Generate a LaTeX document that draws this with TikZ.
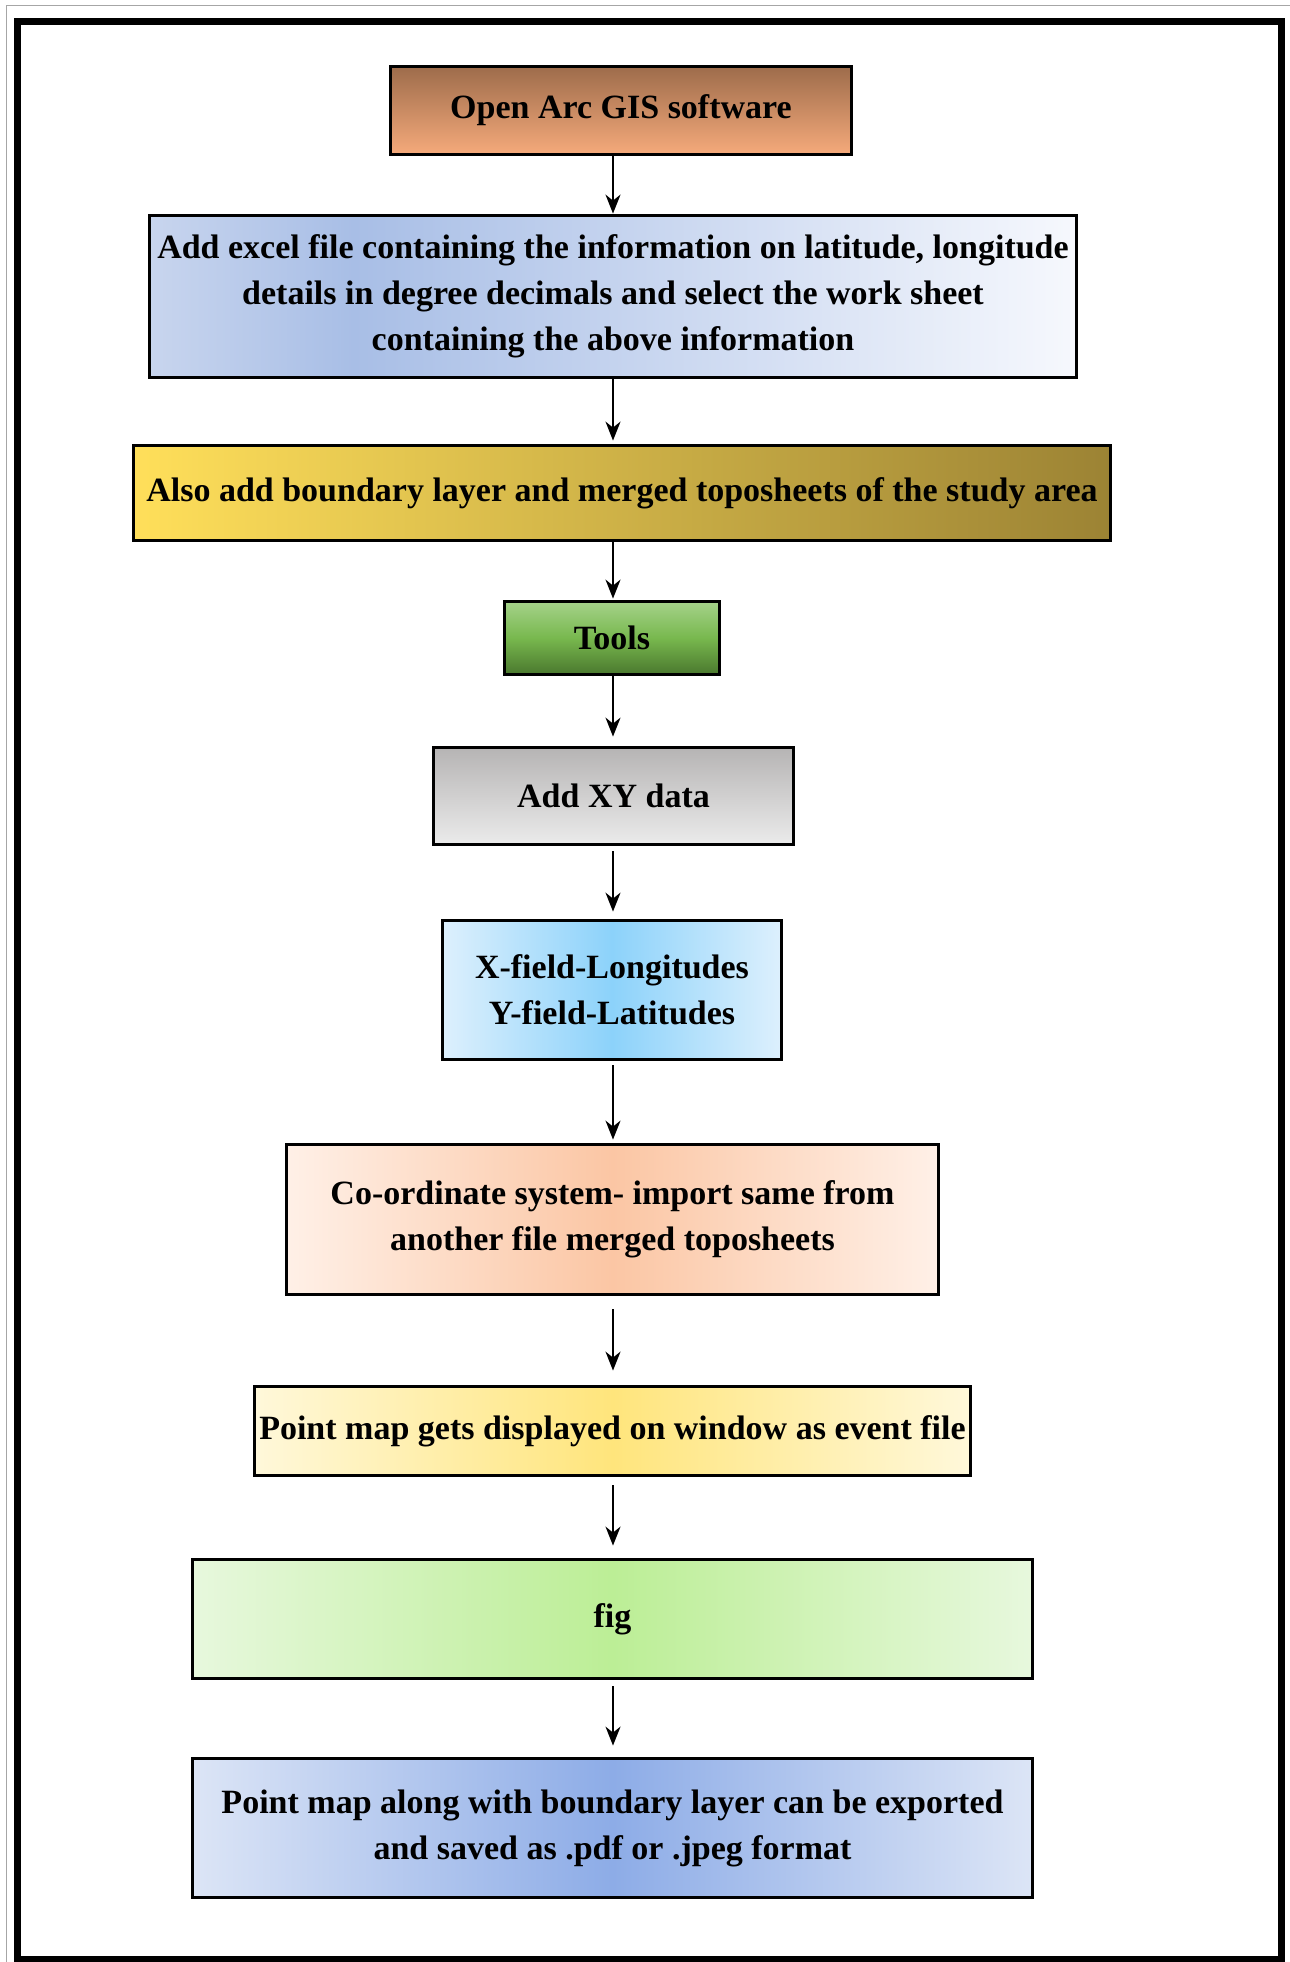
\documentclass[tikz,border=0pt]{standalone}
\usepackage{fontspec}
\setmainfont{Liberation Serif}
\usetikzlibrary{arrows.meta}
\definecolor{cAtop}{HTML}{9E6C4B}
\definecolor{cAbot}{HTML}{F5AA7B}
\definecolor{cBa}{HTML}{C8D5EE}
\definecolor{cBb}{HTML}{A8BEE6}
\definecolor{cBc}{HTML}{F6F8FD}
\definecolor{cCa}{HTML}{FFDF5A}
\definecolor{cCb}{HTML}{9C8334}
\definecolor{cDtop}{HTML}{A5D28A}
\definecolor{cDmid}{HTML}{78B84E}
\definecolor{cDbot}{HTML}{4A782E}
\definecolor{cEtop}{HTML}{B6B4B4}
\definecolor{cEbot}{HTML}{EBEBEB}
\definecolor{cFedge}{HTML}{DDF0FD}
\definecolor{cFmid}{HTML}{8CD2FA}
\definecolor{cGedge}{HTML}{FFF0E7}
\definecolor{cGmid}{HTML}{FBC6A4}
\definecolor{cHedge}{HTML}{FFF8DA}
\definecolor{cHmid}{HTML}{FFE57C}
\definecolor{cIedge}{HTML}{E7F8DD}
\definecolor{cImid}{HTML}{BCEE96}
\definecolor{cJedge}{HTML}{DCE5F6}
\definecolor{cJmid}{HTML}{8DACE7}
\pgfdeclarehorizontalshading{blueTwo}{100bp}{color(0bp)=(cBa); color(25bp)=(cBa); color(36bp)=(cBb); color(75bp)=(cBc); color(100bp)=(cBc)}
\begin{document}
\begin{tikzpicture}[x=1pt,y=-1pt,
  box/.style={draw=black, line width=3.8pt, align=center, inner sep=0pt,
    font=\bfseries\fontsize{34}{46}\selectfont, text=black},
  arr/.style={line width=2pt, -{Stealth[length=19pt,width=15pt,inset=6pt]}}]
\useasboundingbox (0,0) rectangle (1290,1962);
\clip (0,0) rectangle (1290,1962);
\fill[white] (0,0) rectangle (1290,1962);
% frames
\draw[gray!70, line width=1pt] (6.5,5.5) rectangle (1300,1975);
\draw[black, line width=7pt] (17.5,21) rectangle (1281.5,1959);
% boxes
\node[box, minimum width=461pt, minimum height=88pt, top color=cAtop, bottom color=cAbot]
  (b1) at (621,110.5) {Open Arc GIS software};
\node[box, minimum width=927pt, minimum height=162pt, shading=blueTwo]
  (b2) at (613,296.5) {Add excel file containing the information on latitude, longitude\\details in degree decimals and select the work sheet\\containing the above information};
\node[box, minimum width=977pt, minimum height=95pt, left color=cCa, right color=cCb]
  (b3) at (622,493) {Also add boundary layer and merged toposheets of the study area};
\node[box, minimum width=215pt, minimum height=73pt, top color=cDtop, bottom color=cDbot, middle color=cDmid]
  (b4) at (612,638) {Tools};
\node[box, minimum width=360pt, minimum height=97pt, top color=cEtop, bottom color=cEbot]
  (b5) at (613.5,796) {Add XY data};
\node[box, minimum width=339pt, minimum height=139pt, left color=cFedge, right color=cFedge, middle color=cFmid]
  (b6) at (612,990) {X-field-Longitudes\\Y-field-Latitudes};
\node[box, minimum width=652pt, minimum height=150pt, left color=cGedge, right color=cGedge, middle color=cGmid]
  (b7) at (612.5,1219.5) {Co-ordinate system- import same from\\another file merged toposheets};
\node[box, minimum width=716pt, minimum height=89pt, left color=cHedge, right color=cHedge, middle color=cHmid]
  (b8) at (612.5,1431) {Point map gets displayed on window as event file};
\node[box, minimum width=840pt, minimum height=119pt, left color=cIedge, right color=cIedge, middle color=cImid]
  (b9) at (612.5,1619) {fig};
\node[box, minimum width=840pt, minimum height=139pt, left color=cJedge, right color=cJedge, middle color=cJmid]
  (b10) at (612.5,1828) {Point map along with boundary layer can be exported\\and saved as .pdf or .jpeg format};
% connectors
\coordinate (ax) at (613,0);
\draw[arr] (b1.south -| ax) -- (b2.north -| ax);
\draw[arr, shorten >=3pt] (b2.south -| ax) -- (b3.north -| ax);
\draw[arr, shorten >=1pt] (b3.south -| ax) -- (b4.north -| ax);
\draw[arr, shorten >=9pt] (b4.south -| ax) -- (b5.north -| ax);
\draw[arr, shorten <=5pt, shorten >=7pt] (b5.south -| ax) -- (b6.north -| ax);
\draw[arr, shorten <=4pt, shorten >=3pt] (b6.south -| ax) -- (b7.north -| ax);
\draw[arr, shorten <=13pt, shorten >=14pt] (b7.south -| ax) -- (b8.north -| ax);
\draw[arr, shorten <=8pt, shorten >=12pt] (b8.south -| ax) -- (b9.north -| ax);
\draw[arr, shorten <=6pt, shorten >=11pt] (b9.south -| ax) -- (b10.north -| ax);
\end{tikzpicture}
\end{document}
